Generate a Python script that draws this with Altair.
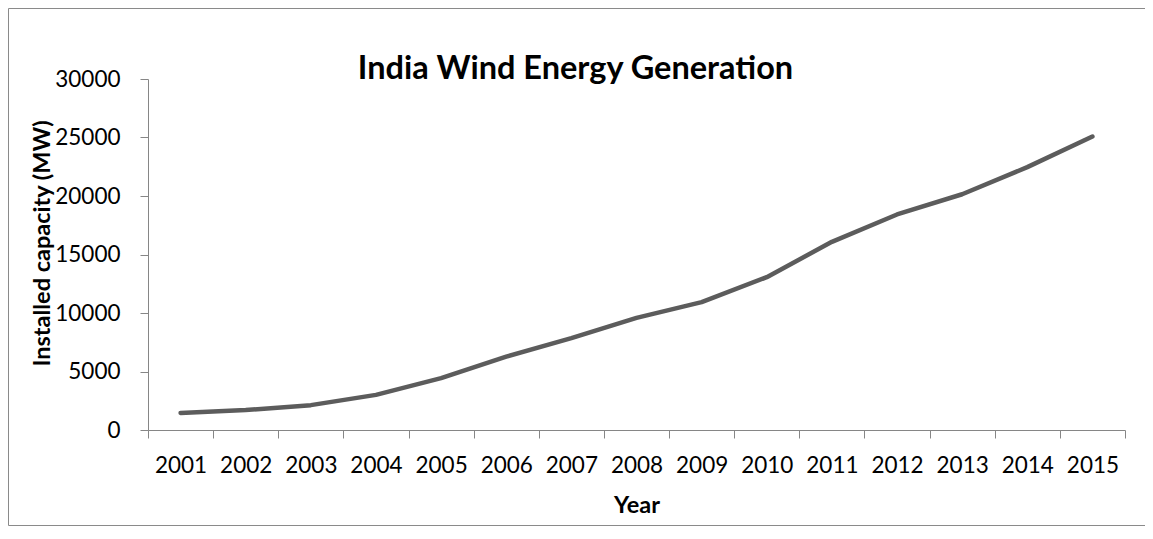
import altair as alt
import pandas as pd

years = ["2001", "2002", "2003", "2004", "2005", "2006", "2007", "2008",
         "2009", "2010", "2011", "2012", "2013", "2014", "2015"]
capacity_mw = [1456, 1702, 2125, 3000, 4430, 6270, 7850, 9587,
               10925, 13064, 16084, 18421, 20150, 22465, 25088]
y_ticks = [0, 5000, 10000, 15000, 20000, 25000, 30000]

df = pd.DataFrame({"Year": years, "MW": capacity_mw})

AX = "#868686"
FONT = "Lato"

line = alt.Chart(df).mark_line(color="#5c5c5c", strokeWidth=4.5, strokeCap="round", strokeJoin="round").encode(
    x=alt.X("Year:O", sort=years,
            scale=alt.Scale(type="band", paddingInner=0, paddingOuter=0),
            axis=alt.Axis(title="Year", tickBand="extent", labelAngle=0,
                          labelBaseline="alphabetic", labelPadding=34,
                          titleBaseline="alphabetic", titleY=82,
                          labelOverlap=False)),
    y=alt.Y("MW:Q", scale=alt.Scale(domain=[0, 30000], nice=False, zero=True),
            axis=alt.Axis(title="Installed capacity (MW)", values=y_ticks, format="d",
                          grid=False, labelPadding=20,
                          titleAngle=-90, titleBaseline="alphabetic",
                          titleX=-99, titleY=164, titleAlign="center")),
)

border = alt.Chart(alt.Data(values=[{}])).mark_rect(
    fillOpacity=0, stroke="#8a8a8a", strokeWidth=1
).encode(
    x=alt.value(-139.5), x2=alt.value(1100),
    y=alt.value(-70.5), y2=alt.value(446.5),
)

chart = alt.layer(border, line).properties(
    width=977, height=351,
    padding={"left": 140, "top": 71, "right": 20, "bottom": 96},
    autosize=alt.AutoSizeParams(type="none"),
    background="white",
    title=alt.TitleParams(text="India Wind Energy Generation", font=FONT, fontSize=32.5,
                          fontWeight="bold", color="black", anchor="middle",
                          dx=-61, baseline="alphabetic", offset=-103),
).configure_view(stroke=None).configure_axis(
    domainColor=AX, domainWidth=1, tickColor=AX, tickWidth=1, tickSize=8,
    labelFont=FONT, labelFontSize=22.5, labelColor="black",
    titleFont=FONT, titleFontSize=23.5, titleFontWeight="bold", titleColor="black",
)

chart.save("out.html", embed_options={"renderer": "svg", "actions": False})
